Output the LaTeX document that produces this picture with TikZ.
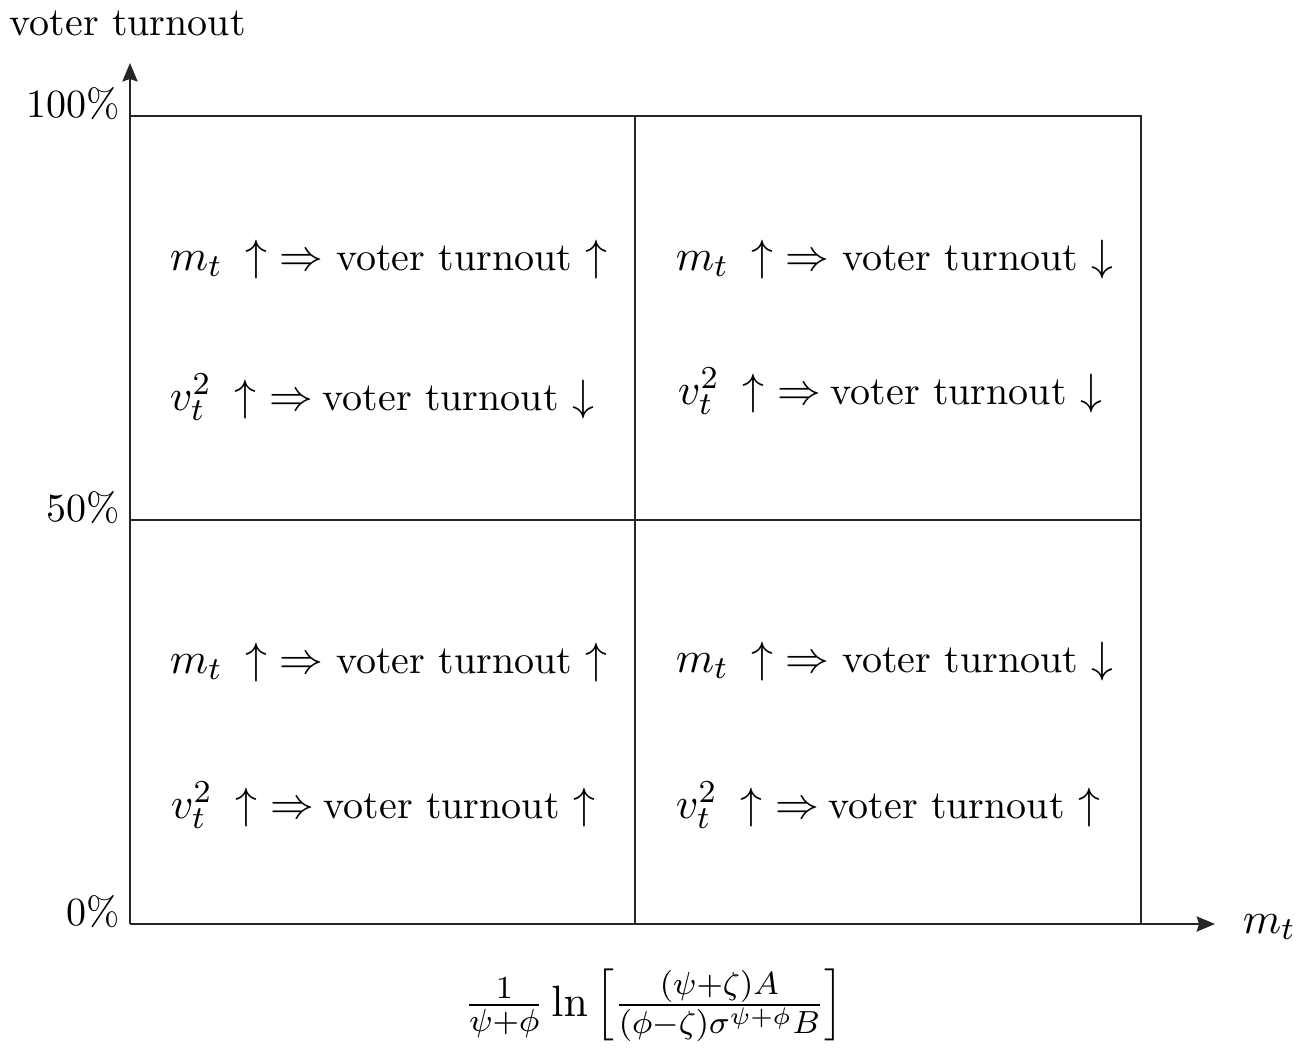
\documentclass[tikz,border=0pt]{standalone}
\usetikzlibrary{arrows.meta}
\newcommand{\bigmath}[1]{{\fontsize{10.95}{13}\selectfont$#1$}}
\newcommand{\mrow}[1]{\bigmath{m_t}\hspace{5.8pt}\bigmath{\uparrow}\hspace{3pt}\bigmath{\Rightarrow}\hspace{3.2pt}voter turnout \bigmath{#1}}
\newcommand{\vrow}[1]{\bigmath{v_t^2}\hspace{5.8pt}\bigmath{\uparrow}\hspace{3.2pt}\bigmath{\Rightarrow}\hspace{2.4pt}voter turnout \bigmath{#1}}
\begin{document}
\begin{tikzpicture}[x=0.25pt,y=-0.25pt,
  grid/.style={line width=0.5pt,draw=black!85},
  axis/.style={line width=0.5pt,draw=black!85,-{Stealth[length=4.6pt,width=3.8pt,inset=0.6pt]}},
  tick/.style={anchor=base east,inner sep=0pt},
  cell/.style={anchor=base west,inner sep=0pt}]
\useasboundingbox (0,0) rectangle (1308,1050);
% frame coordinates
\coordinate (O) at (130,924);
\coordinate (TL) at (130,116);
\coordinate (TR) at (1141,116);
\coordinate (BR) at (1141,924);
\coordinate (MT) at (635,116);
\coordinate (MB) at (635,924);
\coordinate (ML) at (130,520);
\coordinate (MR) at (1141,520);
\coordinate (ytip) at (130,63);
\coordinate (xtip) at (1215,924);
% grid
\draw[grid] (TL) -- (TR) -- (BR);
\draw[grid] (MT) -- (MB);
\draw[grid] (ML) -- (MR);
% axes
\draw[axis] (O) -- (ytip);
\draw[axis] (O) -- (xtip);
% axis labels
\node[cell] (ylab) at (9,35) {voter turnout};
\node[cell] (xlab) at (1242,933) {\bigmath{m_t}};
\node[tick] (t100) at (121,117) {100\%};
\node[tick] (t50) at (121,521) {50\%};
\node[tick] (t0) at (121,925) {0\%};
\node[anchor=base,inner sep=0pt] (thr) at (654,1016)
  {\fontsize{10.95}{13}\selectfont$\frac{1}{\psi+\phi}\ln\left[\frac{(\psi+\zeta)A}{(\phi-\zeta)\sigma^{\psi+\phi}B}\right]$};
% cells
\node[cell] (tl1) at (169,270) {\mrow{\uparrow}};
\node[cell] (tl2) at (169,410) {\vrow{\downarrow}};
\node[cell] (tr1) at (675,270) {\mrow{\downarrow}};
\node[cell] (tr2) at (677,404) {\vrow{\downarrow}};
\node[cell] (bl1) at (169,673) {\mrow{\uparrow}};
\node[cell] (bl2) at (170,818) {\vrow{\uparrow}};
\node[cell] (br1) at (675,672) {\mrow{\downarrow}};
\node[cell] (br2) at (675,818) {\vrow{\uparrow}};
\end{tikzpicture}
\end{document}
